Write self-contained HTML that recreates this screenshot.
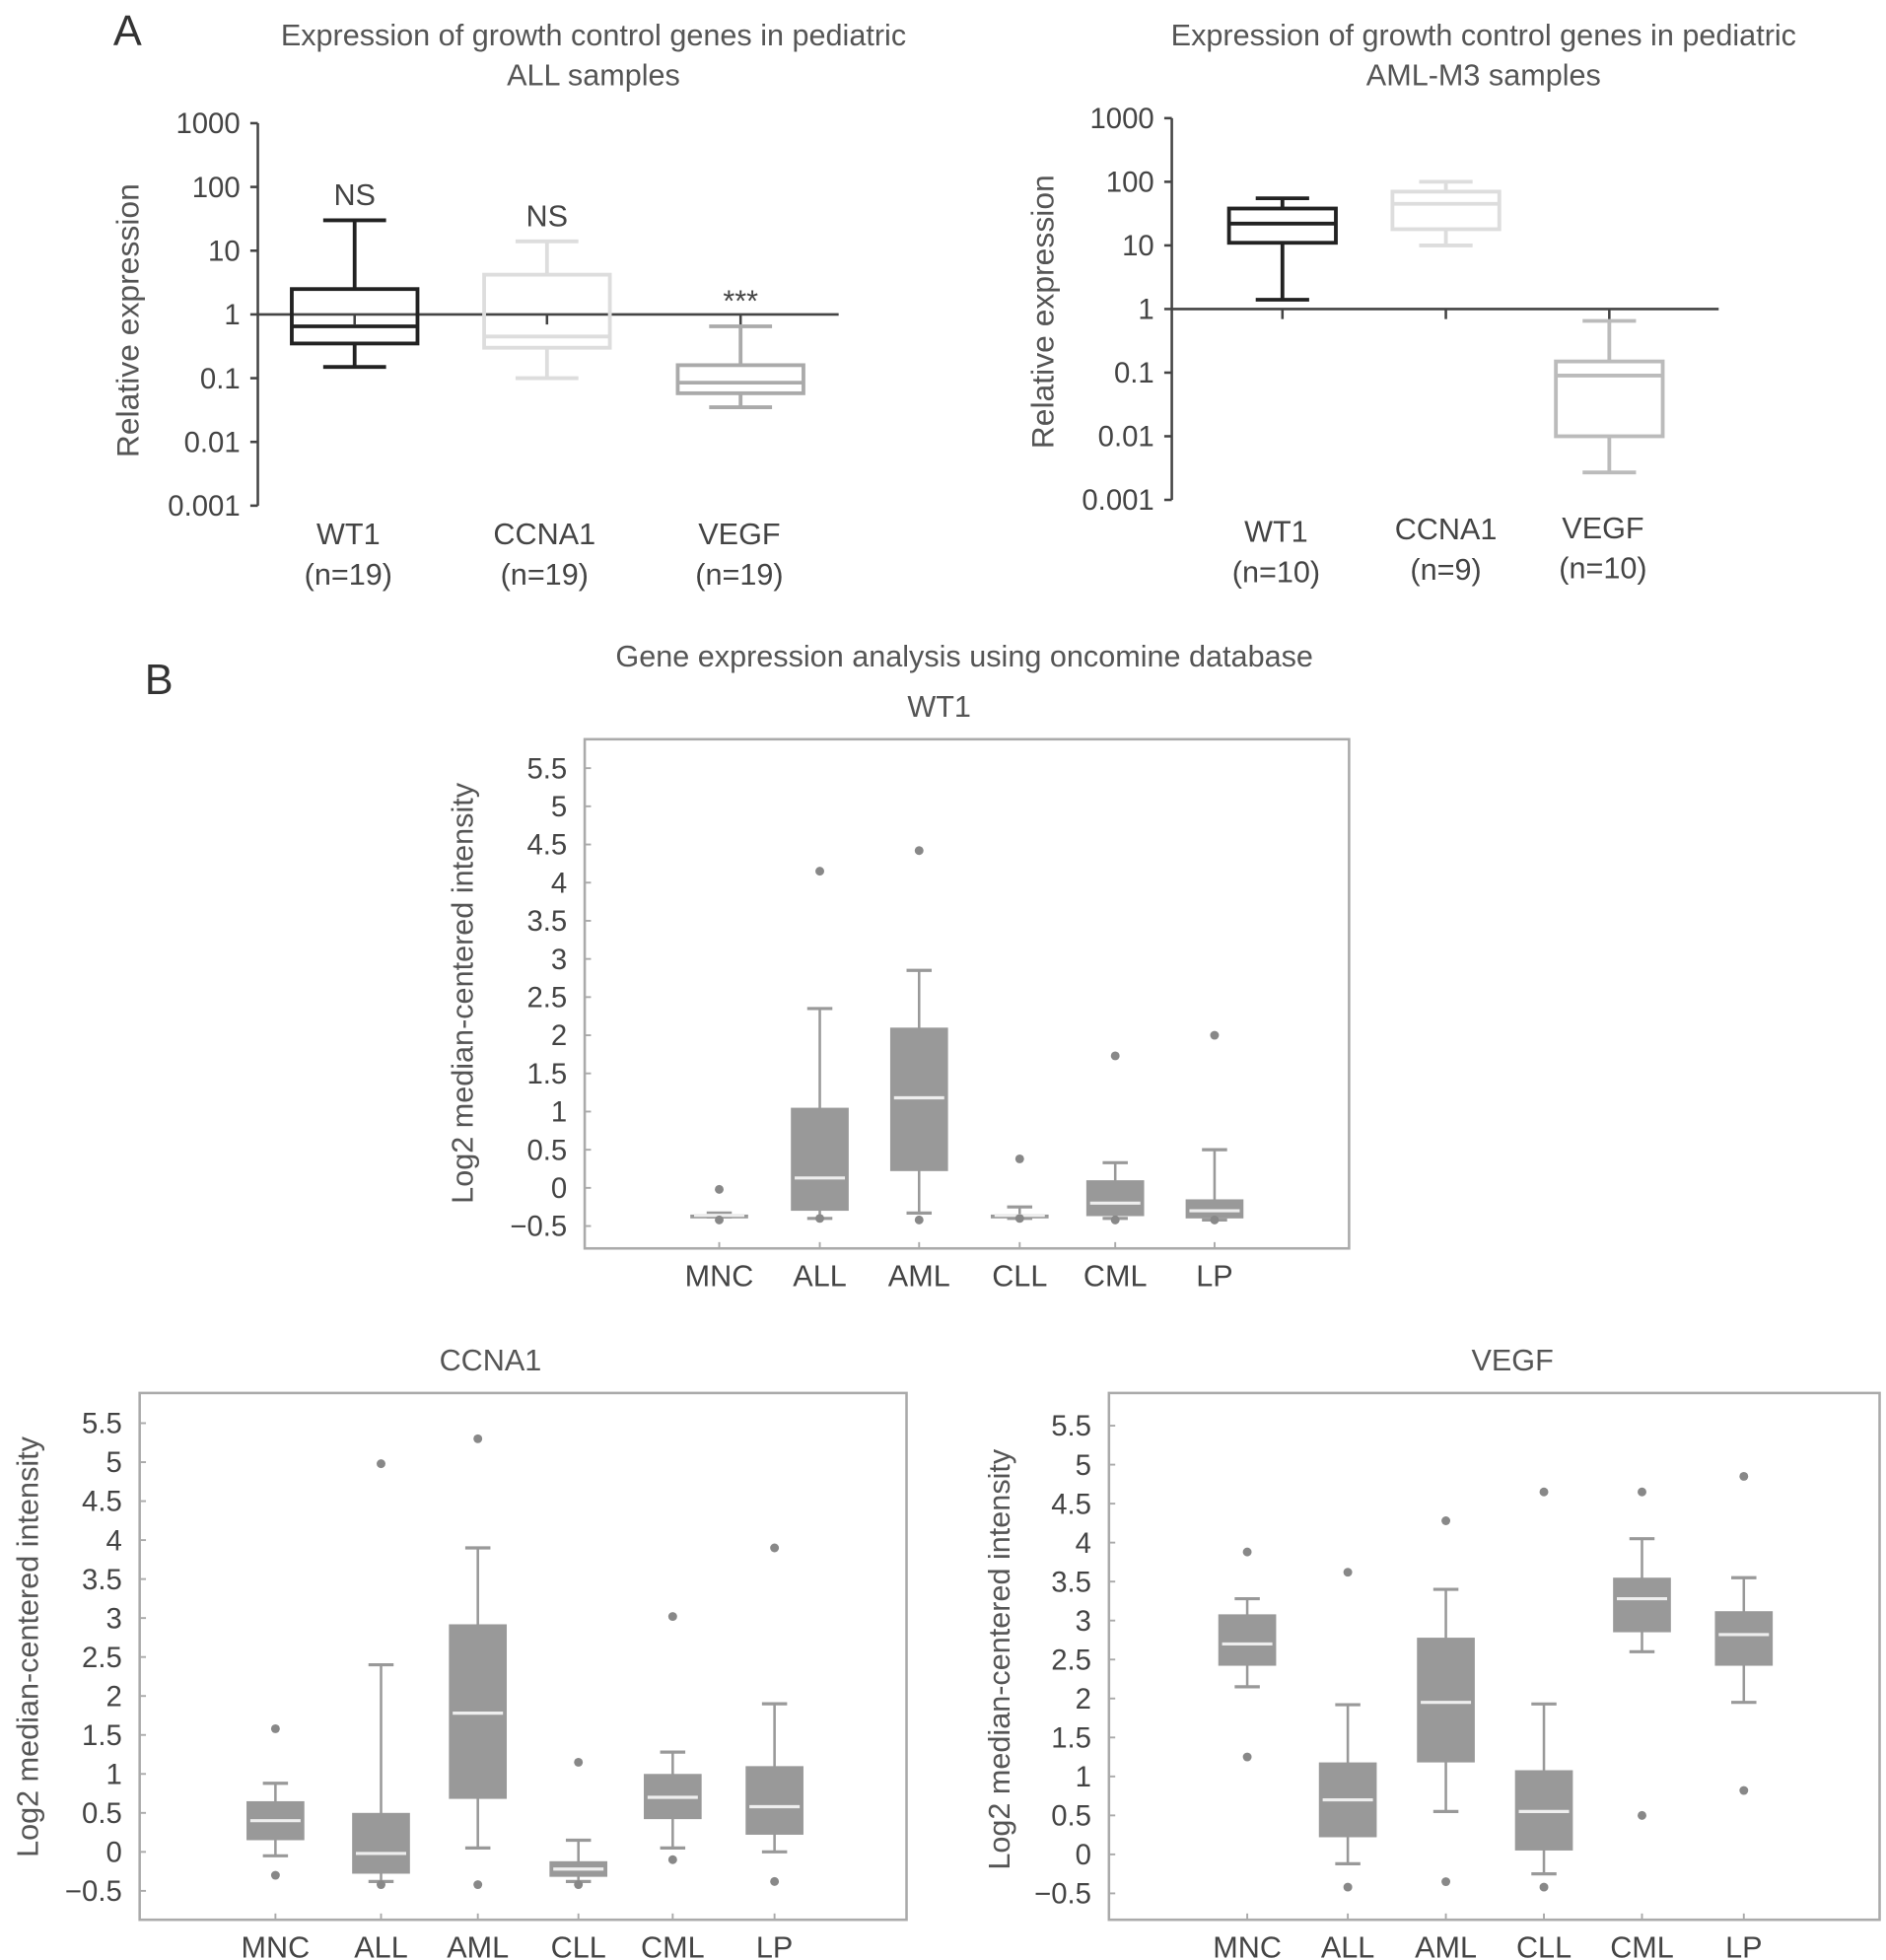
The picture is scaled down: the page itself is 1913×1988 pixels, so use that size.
<!DOCTYPE html>
<html><head><meta charset="utf-8"><style>
html,body{margin:0;padding:0;background:#fff;}
svg{display:block;font-family:"Liberation Sans",sans-serif;}
</style></head><body>
<svg id="fig" width="1913" height="1988" viewBox="0 0 1500 1559" xmlns="http://www.w3.org/2000/svg">
<text x="90" y="36" font-size="34" fill="#333">A</text>
<text x="115" y="552" font-size="34" fill="#333">B</text>
<text x="767" y="530" font-size="24" fill="#555" text-anchor="middle">Gene expression analysis using oncomine database</text>
<g id="root"></g>
</svg>
<script>
// Panel A data (relative expression, log scale)
const aCats = ["WT1","CCNA1","VEGF"];
const aLeftN = ["(n=19)","(n=19)","(n=19)"];
const aRightN = ["(n=10)","(n=9)","(n=10)"];
const aLeftWlo = [0.15,0.1,0.035];
const aLeftQ1 = [0.35,0.3,0.058];
const aLeftMed = [0.65,0.45,0.085];
const aLeftQ3 = [2.5,4.2,0.16];
const aLeftWhi = [30,14,0.65];
const aLeftSig = ["NS","NS","***"];
const aRightWlo = [1.4,10,0.0027];
const aRightQ1 = [11,18,0.01];
const aRightMed = [22,45,0.09];
const aRightQ3 = [38,70,0.15];
const aRightWhi = [55,100,0.65];
const aTicks = [1000,100,10,1,0.1,0.01,0.001];
const aTickLabels = ["1000","100","10","1","0.1","0.01","0.001"];
// Panel B data
const bCats = ["MNC","ALL","AML","CLL","CML","LP"];
const bTicks = [5.5,5,4.5,4,3.5,3,2.5,2,1.5,1,0.5,0,-0.5];
const bTickLabels = ["5.5","5","4.5","4","3.5","3","2.5","2","1.5","1","0.5","0","\u22120.5"];
const wt1Q1 = [-0.38,-0.3,0.22,-0.38,-0.37,-0.4];
const wt1Med = [-0.36,0.13,1.18,-0.36,-0.2,-0.3];
const wt1Q3 = [-0.35,1.05,2.1,-0.35,0.1,-0.15];
const wt1Wlo = [-0.38,-0.4,-0.33,-0.4,-0.4,-0.42];
const wt1Whi = [-0.33,2.35,2.85,-0.25,0.33,0.5];
const wt1OutHi = [-0.02,4.15,4.42,0.38,1.73,2.0];
const wt1OutLo = [-0.42,-0.4,-0.42,-0.4,-0.42,-0.42];
const ccQ1 = [0.15,-0.28,0.68,-0.32,0.42,0.22];
const ccMed = [0.4,-0.02,1.78,-0.22,0.7,0.58];
const ccQ3 = [0.65,0.5,2.92,-0.12,1.0,1.1];
const ccWlo = [-0.05,-0.38,0.05,-0.38,0.05,0.0];
const ccWhi = [0.88,2.4,3.9,0.15,1.28,1.9];
const ccOutHi = [1.58,4.98,5.3,1.15,3.02,3.9];
const ccOutLo = [-0.3,-0.42,-0.42,-0.42,-0.1,-0.38];
const vgQ1 = [2.42,0.22,1.18,0.05,2.85,2.42];
const vgMed = [2.7,0.7,1.95,0.55,3.28,2.82];
const vgQ3 = [3.08,1.18,2.78,1.08,3.55,3.12];
const vgWlo = [2.15,-0.12,0.55,-0.25,2.6,1.95];
const vgWhi = [3.28,1.92,3.4,1.93,4.05,3.55];
const vgOutHi = [3.88,3.62,4.28,4.65,4.65,4.85];
const vgOutLo = [1.25,-0.42,-0.35,-0.42,0.5,0.82];

const NS="http://www.w3.org/2000/svg";
const root=document.getElementById('root');
function mk(tag,attrs,parent,text){const e=document.createElementNS(NS,tag);for(const k in attrs)e.setAttribute(k,attrs[k]);if(text!==undefined)e.textContent=text;(parent||root).appendChild(e);return e;}

function panelA(o){
  const g=mk('g',{});
  
  
  const y=v=>o.yTop+(3-Math.log10(v))*o.dec;
  const t1=mk('text',{x:o.tx,y:36+o.dy,'font-size':24,fill:'#555','text-anchor':'middle'},g,"Expression of growth control genes in pediatric");
  
  
  const t2=mk('text',{x:o.tx,y:68+o.dy,'font-size':24,fill:'#555','text-anchor':'middle'},g,o.sub);
  
  
  const ax=mk('line',{x1:o.ax,x2:o.ax,y1:y(1000),y2:y(0.001),stroke:'#444','stroke-width':2},g);
  
  
  aTicks.forEach((v,i)=>{
    mk('line',{x1:o.ax-6,x2:o.ax,y1:y(v),y2:y(v),stroke:'#444','stroke-width':2},g);
    const tl=mk('text',{x:o.ax-14,y:y(v)+8,'font-size':23,fill:'#444','text-anchor':'end'},g,aTickLabels[i]);
    
    
  });
  const yl=mk('text',{x:0,y:0,'font-size':25,fill:'#555','text-anchor':'middle',transform:`translate(${o.ylx},${o.yly}) rotate(-90)`},g,"Relative expression");
  
  
  const rl=mk('line',{x1:o.ax,x2:o.refEnd,y1:y(1),y2:y(1),stroke:'#444','stroke-width':2},g);
  
  
  aCats.forEach((c,i)=>{
    const cx=o.cx[i],w=o.w,col=o.cols[i];
    const bg=mk('g',{},g);
    
    
    mk('line',{x1:cx,x2:cx,y1:y(o.whi[i]),y2:y(o.q3[i]),stroke:col,'stroke-width':3},bg);
    mk('line',{x1:cx,x2:cx,y1:y(o.q1[i]),y2:y(o.wlo[i]),stroke:col,'stroke-width':3},bg);
    mk('line',{x1:cx-w*0.25,x2:cx+w*0.25,y1:y(o.whi[i]),y2:y(o.whi[i]),stroke:col,'stroke-width':3},bg);
    mk('line',{x1:cx-w*0.25,x2:cx+w*0.25,y1:y(o.wlo[i]),y2:y(o.wlo[i]),stroke:col,'stroke-width':3},bg);
    mk('rect',{x:cx-w/2,y:y(o.q3[i]),width:w,height:y(o.q1[i])-y(o.q3[i]),fill:'none',stroke:col,'stroke-width':3},bg);
    mk('line',{x1:cx-w/2,x2:cx+w/2,y1:y(o.med[i]),y2:y(o.med[i]),stroke:col,'stroke-width':3},bg);
    mk('line',{x1:cx,x2:cx,y1:y(1),y2:y(1)+8,stroke:'#444','stroke-width':2},bg);
    if(o.sig){const s=mk('text',{x:cx,y:y(o.whi[i])-12,'font-size':24,fill:'#444','text-anchor':'middle'},g,o.sig[i]);
      
      }
    const cl=mk('text',{x:o.lx[i],y:o.ly[i],'font-size':24,fill:'#444','text-anchor':'middle'},g,c);
    
    
    const nl=mk('text',{x:o.lx[i],y:o.ly[i]+32,'font-size':24,fill:'#444','text-anchor':'middle'},g,o.n[i]);
    
    
  });
}
panelA({name:'chart-a-all',tx:472,dy:0,sub:"ALL samples",ax:205,yTop:98,dec:50.7,refEnd:667,ylx:110,yly:255,
  cx:[282,435,589],w:100,cols:['#222','#ddd','#aaa'],wlo:aLeftWlo,q1:aLeftQ1,med:aLeftMed,q3:aLeftQ3,whi:aLeftWhi,sig:aLeftSig,
  lx:[277,433,588],ly:[433,433,433],n:aLeftN});
panelA({name:'chart-a-aml-m3',tx:1180,dy:0,sub:"AML-M3 samples",ax:932,yTop:94,dec:50.6,refEnd:1367,ylx:838,yly:248,
  cx:[1020,1150,1280],w:85,cols:['#222','#ddd','#bbb'],wlo:aRightWlo,q1:aRightQ1,med:aRightMed,q3:aRightQ3,whi:aRightWhi,sig:null,
  lx:[1015,1150,1275],ly:[431,429,428],n:aRightN});

function panelB(o){
  const g=mk('g',{});
  
  
  const y=v=>o.y55+(5.5-v)*o.unit;
  const t=mk('text',{x:o.tx,y:o.ty,'font-size':24,fill:'#555','text-anchor':'middle'},g,o.title);
  
  
  const fr=mk('rect',{x:o.fx,y:o.fy,width:o.fw,height:o.fh,fill:'none',stroke:'#aaa','stroke-width':2},g);
  
  
  bTicks.forEach((v,i)=>{
    mk('line',{x1:o.fx,x2:o.fx+5,y1:y(v),y2:y(v),stroke:'#aaa','stroke-width':1.5},g);
    const tl=mk('text',{x:o.fx-14,y:y(v)+8,'font-size':23,fill:'#444','text-anchor':'end'},g,bTickLabels[i]);
    
    
  });
  const yl=mk('text',{x:0,y:0,'font-size':24,fill:'#555','text-anchor':'middle',transform:`translate(${o.ylx},${o.yly}) rotate(-90)`},g,"Log2 median-centered intensity");
  
  
  const col='#999',w=46;
  bCats.forEach((c,i)=>{
    const cx=o.cx[i];
    const bg=mk('g',{},g);
    
    
    mk('line',{x1:cx,x2:cx,y1:o.fy+o.fh,y2:o.fy+o.fh-5,stroke:'#aaa','stroke-width':1.5},bg);
    mk('line',{x1:cx,x2:cx,y1:y(o.whi[i]),y2:y(o.wlo[i]),stroke:col,'stroke-width':2},bg);
    mk('line',{x1:cx-10,x2:cx+10,y1:y(o.whi[i]),y2:y(o.whi[i]),stroke:col,'stroke-width':2.5},bg);
    mk('line',{x1:cx-10,x2:cx+10,y1:y(o.wlo[i]),y2:y(o.wlo[i]),stroke:col,'stroke-width':2.5},bg);
    mk('rect',{x:cx-w/2,y:y(o.q3[i]),width:w,height:Math.max(3,y(o.q1[i])-y(o.q3[i])),fill:col},bg);
    mk('line',{x1:cx-w/2+3,x2:cx+w/2-3,y1:y(o.med[i]),y2:y(o.med[i]),stroke:'#eee','stroke-width':2.5},bg);
    mk('circle',{cx:cx,cy:y(o.oh[i]),r:3.5,fill:'#888'},bg);
    mk('circle',{cx:cx,cy:y(o.ol[i]),r:3.5,fill:'#888'},bg);
    const cl=mk('text',{x:cx,y:o.fy+o.fh+30,'font-size':24,fill:'#444','text-anchor':'middle'},g,c);
    
    
  });
}
panelB({name:'chart-b-wt1',title:'WT1',tx:747,ty:570,fx:465,fy:588,fw:608,fh:405,y55:611,unit:60.7,ylx:376,yly:790,
  cx:[572,652,731,811,887,966],q1:wt1Q1,med:wt1Med,q3:wt1Q3,wlo:wt1Wlo,whi:wt1Whi,oh:wt1OutHi,ol:wt1OutLo});
panelB({name:'chart-b-ccna1',title:'CCNA1',tx:390,ty:1090,fx:111,fy:1108,fw:610,fh:419,y55:1132,unit:62,ylx:30,yly:1310,
  cx:[219,303,380,460,535,616],q1:ccQ1,med:ccMed,q3:ccQ3,wlo:ccWlo,whi:ccWhi,oh:ccOutHi,ol:ccOutLo});
panelB({name:'chart-b-vegf',title:'VEGF',tx:1203,ty:1090,fx:882,fy:1108,fw:613,fh:419,y55:1134,unit:62,ylx:803,yly:1320,
  cx:[992,1072,1150,1228,1306,1387],q1:vgQ1,med:vgMed,q3:vgQ3,wlo:vgWlo,whi:vgWhi,oh:vgOutHi,ol:vgOutLo});
</script>
</body></html>
